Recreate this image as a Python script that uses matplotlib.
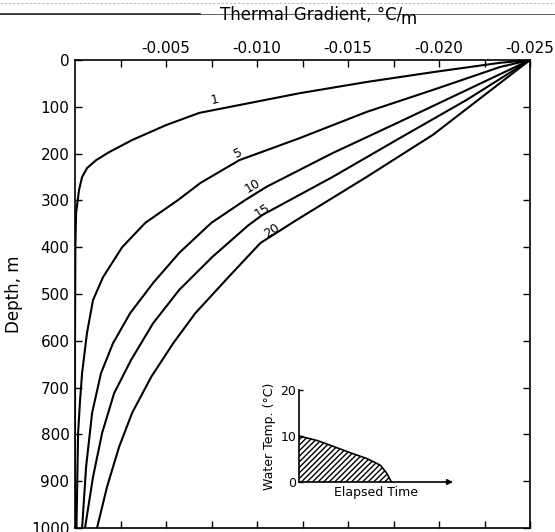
import matplotlib

matplotlib.use("Agg")
import matplotlib.pyplot as plt  # noqa: E402
from matplotlib.lines import Line2D  # noqa: E402

# ---------------------------------------------------------------------------
# Data (gradient in degC/m, depth in m)
# ---------------------------------------------------------------------------

depth_1 = [0, 6, 26, 47, 71, 113, 139, 171, 197, 214, 231, 250, 278, 327, 400, 600, 1000]
grad_1 = [-0.025, -0.02335, -0.01966, -0.01602, -0.01234, -0.00683, -0.00501,
          -0.00314, -0.00187, -0.00116, -0.00066, -0.00039, -0.00022, -0.00006, -0.00002, 0.0, 0.0]

depth_5 = [0, 15, 64, 111, 167, 214, 263, 299, 348, 400, 464, 513, 583, 669, 726, 797, 1000]
grad_5 = [-0.025, -0.02335, -0.01966, -0.01602, -0.01234, -0.00903, -0.00688, -0.00567,
          -0.00386, -0.00259, -0.00154, -0.00099, -0.00066, -0.00039, -0.00028, -0.00017, -0.00008]

depth_10 = [0, 64, 132, 199, 271, 299, 348, 412, 476, 541, 605, 669, 754, 869, 1000]
grad_10 = [-0.025, -0.02153, -0.01784, -0.01415, -0.01052, -0.00936, -0.00749, -0.00573,
           -0.00430, -0.00303, -0.00209, -0.00143, -0.00094, -0.00061, -0.00039]

depth_15 = [0, 85, 167, 250, 331, 353, 421, 491, 562, 641, 712, 797, 891, 1000]
grad_15 = [-0.025, -0.02153, -0.01784, -0.01415, -0.01030, -0.00953, -0.00754, -0.00573,
           -0.00430, -0.00308, -0.00215, -0.00149, -0.00099, -0.00055]

depth_20 = [0, 160, 250, 342, 391, 464, 541, 605, 677, 754, 827, 912, 1000]
grad_20 = [-0.025, -0.01966, -0.01602, -0.01217, -0.01019, -0.00843, -0.00661,
           -0.00540, -0.00419, -0.00314, -0.00242, -0.00176, -0.00121]

curve_labels = ["1", "5", "10", "15", "20"]
label_grad = [-0.00770, -0.00895, -0.00975, -0.01030, -0.01080]
label_depth = [84, 200, 268, 322, 365]
label_rot = [12, 25, 31, 33, 33]

x_major = [-0.005, -0.010, -0.015, -0.020, -0.025]
x_major_labels = ["-0.005", "-0.010", "-0.015", "-0.020", "-0.025"]
x_minor = [-0.0025, -0.0075, -0.0125, -0.0175, -0.0225]
y_ticks = [0, 100, 200, 300, 400, 500, 600, 700, 800, 900, 1000]

# inset: water temperature history
inset_time = [0, 0.12, 0.21, 0.33, 0.44, 0.49, 0.53, 0.57, 0.60]
inset_temp = [10, 9.0, 7.9, 6.4, 5.1, 4.3, 3.6, 1.9, 0]
inset_ticks = [0, 10, 20]

W, H = 555, 532
fig = plt.figure(figsize=(W / 100, H / 100), dpi=100)
fig.patch.set_facecolor("white")

# main axes placed in pixel terms
x0, x1, y0, y1 = 75, 530, 60, 528
ax = fig.add_axes([x0 / W, 1 - y1 / H, (x1 - x0) / W, (y1 - y0) / H])

for d, g in [(depth_1, grad_1), (depth_5, grad_5), (depth_10, grad_10),
             (depth_15, grad_15), (depth_20, grad_20)]:
    ax.plot(g, d, color="black", lw=1.5, solid_joinstyle="round")

for txt, gx, dy, rot in zip(curve_labels, label_grad, label_depth, label_rot):
    ax.text(gx, dy, txt, fontsize=9, rotation=rot, ha="center", va="center",
            rotation_mode="anchor")

ax.set_xlim(0, -0.025)
ax.set_ylim(1000, 0)

ax.xaxis.tick_top()
ax.set_xticks(x_major)
ax.set_xticklabels(x_major_labels)
ax.set_xticks(x_minor, minor=True)
ax.set_yticks(y_ticks)
ax.set_yticklabels([str(v) for v in y_ticks])

ax.tick_params(axis="x", which="both", direction="in", top=True, bottom=True,
               labeltop=True, labelbottom=False, length=5, width=1,
               labelsize=11, pad=3)
ax.tick_params(axis="y", which="both", direction="in", left=True, right=True,
               labelleft=True, labelright=False, length=5, width=1,
               labelsize=11, pad=4)
for spine in ax.spines.values():
    spine.set_linewidth(1.2)

ax.set_ylabel("Depth, m", fontsize=12, labelpad=6)

# title above the top axis
fig.text(402 / W, 1 - 15 / H, "Thermal Gradient, \u00b0C/", fontsize=12,
         ha="right", va="center")
fig.text(401 / W, 1 - 19 / H, "m", fontsize=12, ha="left", va="center")

# faint scan rules across the top of the page
fig.add_artist(Line2D([0, 1], [1 - 3 / H, 1 - 3 / H], color="#b0b0b0", lw=0.6,
                      ls=(0, (3, 2)), transform=fig.transFigure))
fig.add_artist(Line2D([0, 1], [1 - 14 / H, 1 - 14 / H], color="#606060", lw=0.7,
                      transform=fig.transFigure))
fig.add_artist(Line2D([0, 200 / W], [1 - 14 / H, 1 - 14 / H], color="#303030",
                      lw=1.2, transform=fig.transFigure))

# inset sketch
ix0, ix1, iy0, iy1 = 299, 453, 390, 482
inset = fig.add_axes([ix0 / W, 1 - iy1 / H, (ix1 - ix0) / W, (iy1 - iy0) / H])
inset.fill_between(inset_time, inset_temp, 0, facecolor="white", edgecolor="black",
                   hatch="//////", lw=0)
inset.plot(inset_time, inset_temp, color="black", lw=1.2)
inset.set_xlim(0, 1)
inset.set_ylim(0, 20)
inset.set_yticks(inset_ticks)
inset.set_yticklabels([str(v) for v in inset_ticks])
inset.set_xticks([])
inset.tick_params(axis="y", direction="in", length=3, width=1, labelsize=9, pad=2)
inset.spines["top"].set_visible(False)
inset.spines["right"].set_visible(False)
inset.spines["bottom"].set_visible(False)
inset.spines["left"].set_linewidth(1.2)
inset.patch.set_alpha(0)
inset.annotate("", xy=(1.0, 0), xytext=(0, 0), xycoords="axes fraction",
               arrowprops=dict(arrowstyle="-|>", color="black", lw=1.2,
                               mutation_scale=8, shrinkA=0, shrinkB=0))
inset.set_ylabel("Water Temp. (\u00b0C)", fontsize=9, labelpad=3)
inset.set_xlabel("Elapsed Time", fontsize=9, labelpad=3)

fig.savefig("out.png", dpi=100, facecolor=fig.get_facecolor())
